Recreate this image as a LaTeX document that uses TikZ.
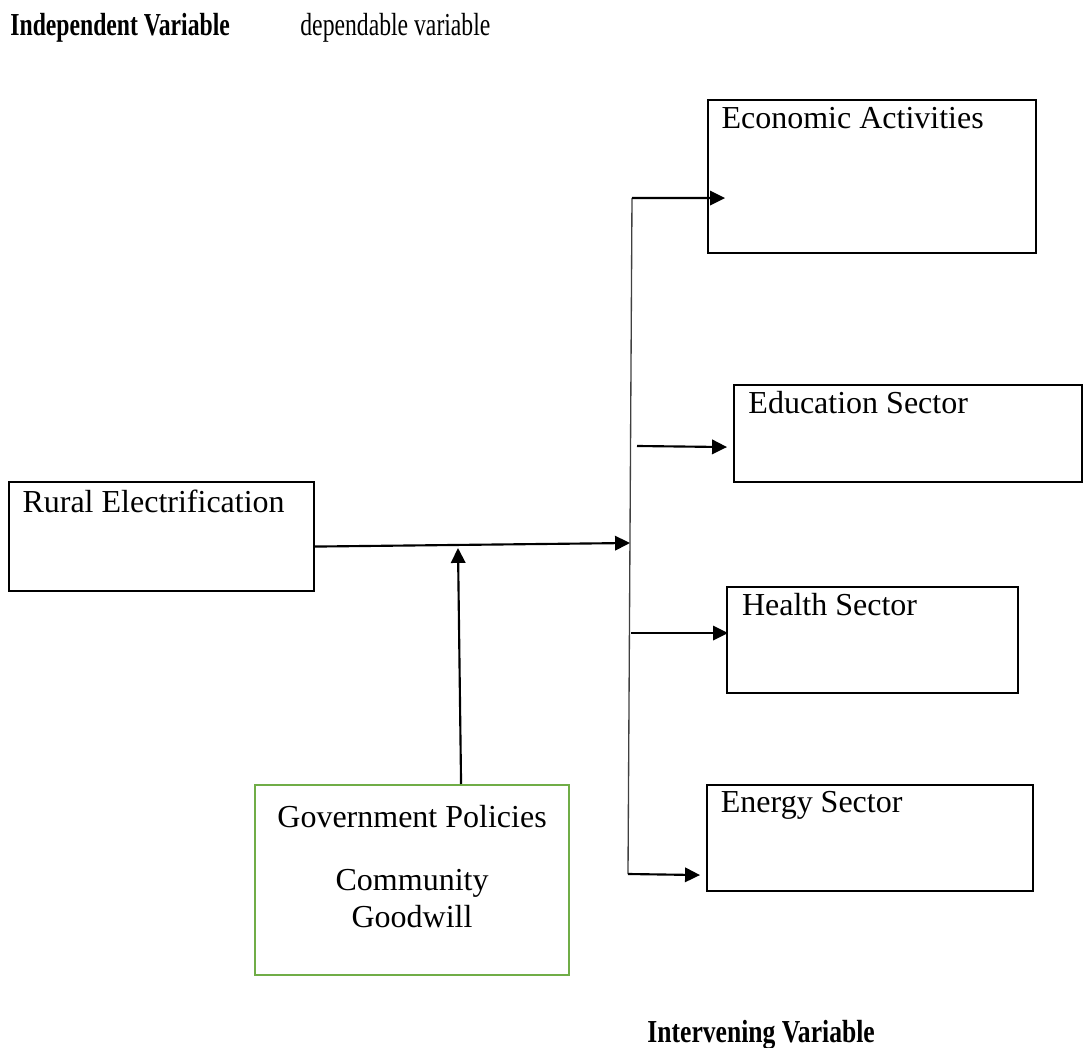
\documentclass[tikz,border=0pt]{standalone}
\usepackage{fontspec}
\setmainfont{Liberation Serif}
\usepackage{tikz}
\usetikzlibrary{arrows.meta,positioning,calc}
\definecolor{policygreen}{HTML}{70AD47}
\tikzset{
  varbox/.style={draw=black,line width=0.8pt,inner sep=0pt,anchor=north west},
  boxtext/.style={inner sep=0pt,anchor=north west,font=\fontsize{12}{13.8}\selectfont},
  headlabel/.style={anchor=base west,inner sep=0pt,font=\fontsize{12}{13.8}\selectfont,
    transform shape},
  causearrow/.style={-{Triangle[length=5.6pt,width=5.4pt]},line width=0.8pt,draw=black},
  busline/.style={line width=0.5pt,draw=black!75}
}
\begin{document}
\begin{tikzpicture}[x=0.375pt,y=-0.375pt]
\path[use as bounding box] (0,0) rectangle (1083,1048);
% headings
\node[headlabel,xscale=0.74,font=\fontsize{12}{13.8}\selectfont\bfseries] (indep) at (10,36) {Independent Variable};
\node[headlabel,xscale=0.74] (dep) at (300,36) {dependable variable};
\node[headlabel,xscale=0.8,font=\fontsize{12}{13.8}\selectfont\bfseries] (interv) at (647,1042) {Intervening Variable};
% boxes
\node[varbox,minimum width=114.375pt,minimum height=40.875pt] (rural) at (8,481) {};
\node[varbox,minimum width=123pt,minimum height=57.375pt] (econ) at (707,99) {};
\node[varbox,minimum width=130.5pt,minimum height=36.375pt] (edu) at (733,384) {};
\node[varbox,minimum width=109.125pt,minimum height=39.75pt] (health) at (726,586) {};
\node[varbox,minimum width=122.25pt,minimum height=39.75pt] (energy) at (706,784) {};
\node[varbox,draw=policygreen,minimum width=117.75pt,minimum height=71.25pt] (govt) at (254,784) {};
\node[boxtext,below right=3pt and 5.25pt of rural.north west] (ruraltext) {Rural Electrification};
\node[boxtext,below right=3pt and 5.25pt of econ.north west] (econtext) {Economic Activities};
\node[boxtext,below right=2.6pt and 5.6pt of edu.north west] (edutext) {Education Sector};
\node[boxtext,below right=2.6pt and 5.8pt of health.north west] (healthtext) {Health Sector};
\node[boxtext,below right=2.4pt and 5.4pt of energy.north west] (energytext) {Energy Sector};
\node[boxtext,anchor=north,align=center,below=7.9pt of govt.north] (govttext)
  {Government Policies\\[9.8pt]Community\\Goodwill};
% connectors
\coordinate (busTop) at (632,198);
\coordinate (busMid) at (630,543);
\coordinate (busBot) at (628,874);
\coordinate (eduFrom) at (637,446);
\coordinate (joinPt) at (458,548);
\draw[busline] (busTop) -- (busBot);
\draw[causearrow] ($(rural.east)+(0,10)$) -- (busMid);
\draw[causearrow] ($(govt.north)+(49,0)$) -- (joinPt);
\draw[causearrow] (busTop) -- ($(econ.west)+(18,21.5)$);
\draw[causearrow] (eduFrom) -- ($(edu.west)+(-6,13.5)$);
\draw[causearrow] ($(health.west)+(-95,-7)$) -- ($(health.west)+(2,-7)$);
\draw[causearrow] (busBot) -- ($(energy.west)+(-6,37)$);
\end{tikzpicture}
\end{document}
